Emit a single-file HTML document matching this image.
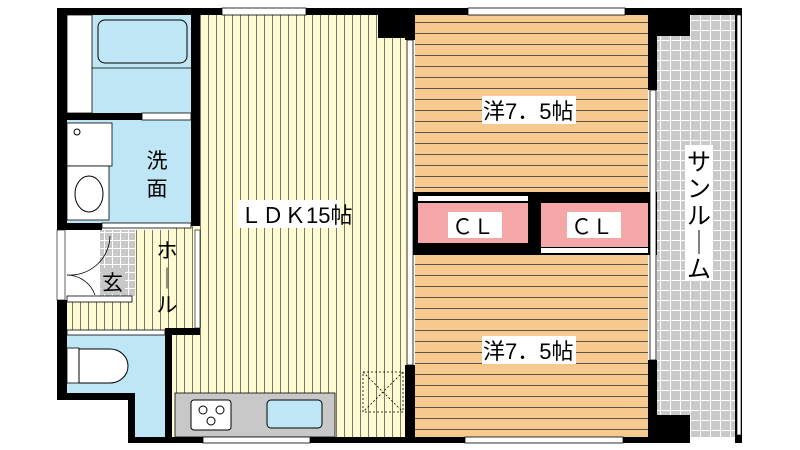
<!DOCTYPE html>
<html><head><meta charset="utf-8"><style>
html,body{margin:0;padding:0;background:#fff;}
svg{display:block;}
text{font-family:"Liberation Sans","Noto Sans CJK JP",sans-serif;fill:#000;}
</style></head><body>
<svg width="800" height="450" viewBox="0 0 800 450" xmlns="http://www.w3.org/2000/svg">
<defs>
<pattern id="vy" width="8" height="10" patternUnits="userSpaceOnUse"><rect width="8" height="10" fill="#fffbd0"/><line x1="0.5" y1="0" x2="0.5" y2="10" stroke="#555" stroke-width="0.8"/></pattern>
<pattern id="ht" width="10" height="11" patternUnits="userSpaceOnUse"><rect width="10" height="11" fill="#f6c98f"/><line x1="0" y1="0.5" x2="10" y2="0.5" stroke="#333" stroke-width="0.8"/></pattern>
<pattern id="gr" width="10" height="10" patternUnits="userSpaceOnUse"><rect width="10" height="10" fill="#c9c9c9"/><path d="M0 0.5H10M0.5 0V10" stroke="#fff" stroke-width="1"/></pattern>
<pattern id="gt" width="8" height="8" patternUnits="userSpaceOnUse"><rect width="8" height="8" fill="#c8c8c8"/><path d="M0 0.5H8M0.5 0V8" stroke="#fff" stroke-width="1"/></pattern>
</defs>
<rect x="170" y="15" width="237" height="422" fill="url(#vy)"/>
<rect x="67" y="300" width="133" height="30" fill="url(#vy)"/>
<rect x="135" y="230" width="65" height="100" fill="url(#vy)"/>
<rect x="415" y="15" width="233" height="177" fill="url(#ht)"/>
<rect x="415" y="255" width="233" height="182" fill="url(#ht)"/>
<rect x="657" y="15" width="78" height="422" fill="url(#gr)"/>
<rect x="67" y="15" width="124" height="98" fill="#bfe6f5"/>
<rect x="67" y="15" width="25" height="98" fill="#fff" stroke="#000" stroke-width="0.8"/>
<rect x="98" y="20" width="89" height="43" rx="7" fill="#bfe6f5" stroke="#000"/>
<line x1="92" y1="68" x2="191" y2="68" stroke="#000" stroke-width="0.8"/>
<rect x="67" y="120" width="124" height="103" fill="#bfe6f5"/>
<rect x="67" y="123" width="45" height="43" fill="#fff" stroke="#000" stroke-width="0.8"/>
<rect x="67" y="166" width="42" height="54" fill="#fff" stroke="#000" stroke-width="0.8"/>
<ellipse cx="89" cy="194" rx="14" ry="18" fill="#fff" stroke="#000"/>
<circle cx="77" cy="132" r="3" fill="#fff" stroke="#000"/>
<rect x="67" y="230" width="68" height="68" fill="#fff"/>
<rect x="100" y="230" width="35" height="66" fill="url(#gt)"/>
<path d="M67 275 A40 40 0 0 0 110 236" fill="none" stroke="#000" stroke-width="0.8"/>
<path d="M67 275 A30 30 0 0 1 95 295" fill="none" stroke="#000" stroke-width="0.8"/>
<rect x="67" y="296" width="65" height="6" fill="#fff" stroke="#000" stroke-width="0.8"/>
<rect x="67" y="335" width="98" height="58" fill="#bfe6f5"/>
<rect x="135" y="393" width="30" height="44" fill="#bfe6f5"/>
<rect x="67" y="348" width="12" height="35" fill="#fff" stroke="#000" stroke-width="0.8"/>
<path d="M79 349 H110 A18 17 0 0 1 110 383 H79 Z" fill="#fff" stroke="#000"/>
<rect x="175" y="393" width="160" height="44" fill="#c8c8c8" stroke="#000" stroke-width="0.8"/>
<rect x="191" y="400" width="40" height="30" rx="3" fill="#fff" stroke="#000"/>
<circle cx="203" cy="410" r="4" fill="#fff" stroke="#000"/><circle cx="220" cy="410" r="4" fill="#fff" stroke="#000"/><circle cx="211" cy="421" r="4" fill="#fff" stroke="#000"/>
<rect x="267" y="400" width="55" height="28" rx="4" fill="#bfe6f5" stroke="#000"/>
<rect x="363" y="372" width="40" height="40" fill="none" stroke="#000" stroke-dasharray="2 2" stroke-width="0.8"/>
<path d="M363 372L403 412M403 372L363 412" stroke="#000" stroke-dasharray="2 2" stroke-width="0.8"/>
<rect x="407" y="192" width="250" height="63" fill="#000"/>
<rect x="418" y="203" width="110" height="40" fill="#f5a7a8"/>
<rect x="541" y="203" width="107" height="44" fill="#f5a7a8"/>
<rect x="418" y="196" width="110" height="5" fill="#fff"/>
<rect x="541" y="248" width="107" height="5" fill="#fff"/>
<g fill="#000">
<rect x="57" y="8" width="165" height="7"/>
<rect x="306" y="8" width="162" height="7"/>
<rect x="625" y="8" width="117" height="7"/>
<rect x="378" y="8" width="37" height="30"/>
<rect x="648" y="8" width="42" height="28"/>
<rect x="648" y="8" width="9" height="82"/>
<rect x="648" y="360" width="9" height="83"/>
<rect x="648" y="415" width="42" height="28"/>
<rect x="735" y="8" width="7" height="435"/>
<rect x="57" y="8" width="10" height="222"/>
<rect x="57" y="300" width="10" height="100"/>
<rect x="57" y="393" width="75" height="7"/>
<rect x="128" y="393" width="7" height="50"/>
<rect x="128" y="437" width="75" height="6"/>
<rect x="310" y="437" width="155" height="6"/>
<rect x="623" y="437" width="32" height="6"/>
<rect x="191" y="8" width="9" height="218"/>
<rect x="57" y="113" width="85" height="7"/>
<rect x="57" y="223" width="45" height="7"/>
<rect x="165" y="330" width="7" height="113"/>
<rect x="165" y="328" width="35" height="7"/>
<rect x="405" y="15" width="10" height="25"/>
<rect x="405" y="365" width="10" height="78"/>
</g>
<rect x="222" y="8" width="84" height="7" fill="#fff" stroke="#000" stroke-width="0.8"/>
<rect x="468" y="8" width="157" height="7" fill="#fff" stroke="#000" stroke-width="0.8"/>
<rect x="203" y="437" width="107" height="6" fill="#fff" stroke="#000" stroke-width="0.8"/>
<rect x="465" y="437" width="158" height="6" fill="#fff" stroke="#000" stroke-width="0.8"/>
<rect x="142" y="113" width="49" height="7" fill="#fff" stroke="#000" stroke-width="0.8"/>
<rect x="102" y="223" width="89" height="5" fill="#fff" stroke="#000" stroke-width="0.8"/>
<rect x="67" y="330" width="98" height="5" fill="#fff" stroke="#000" stroke-width="0.8"/>
<rect x="407" y="40" width="6" height="325" fill="#fff" stroke="#000" stroke-width="0.8"/>
<rect x="650" y="90" width="6" height="270" fill="#fff" stroke="#000" stroke-width="0.8"/>
<rect x="737" y="15" width="4" height="420" fill="#fff" stroke="#000" stroke-width="0.6"/>
<rect x="195" y="230" width="5" height="98" fill="#fff" stroke="#000" stroke-width="0.6"/>
<rect x="57" y="230" width="8" height="70" fill="#fff" stroke="#000" stroke-width="0.6"/>
<rect x="238" y="200" width="102" height="28" fill="#fff"/>
<text x="240" y="223" font-size="22">ＬＤＫ15帖</text>
<rect x="482" y="96" width="94" height="28" fill="#fff"/>
<text x="483" y="119" font-size="22">洋7．5帖</text>
<rect x="482" y="336" width="94" height="28" fill="#fff"/>
<text x="483" y="359" font-size="22">洋7．5帖</text>
<rect x="448" y="212" width="54" height="26" fill="#fff"/>
<text x="452" y="234" font-size="21">ＣＬ</text>
<rect x="567" y="212" width="54" height="26" fill="#fff"/>
<text x="571" y="234" font-size="21">ＣＬ</text>
<rect x="685" y="145" width="28" height="135" fill="#fff"/>
<text font-size="24" x="699" text-anchor="middle"><tspan x="699" y="170">サ</tspan><tspan x="699" y="197">ン</tspan><tspan x="699" y="224">ル</tspan><tspan x="699" y="251">｜</tspan><tspan x="699" y="277">ム</tspan></text>
<text font-size="21" x="157" text-anchor="middle"><tspan x="157" y="168">洗</tspan><tspan x="157" y="196">面</tspan></text>
<text font-size="21" x="167" text-anchor="middle"><tspan x="167" y="258">ホ</tspan><tspan x="167" y="286">｜</tspan><tspan x="167" y="312">ル</tspan></text>
<rect x="101" y="268" width="24" height="26" fill="#c8c8c8"/>
<text x="102" y="290" font-size="21">玄</text>
</svg>
</body></html>
